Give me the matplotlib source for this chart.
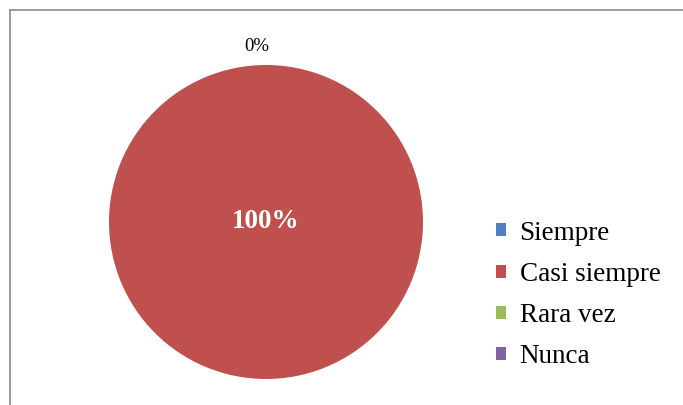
import numpy as np
import matplotlib
matplotlib.use('Agg')
import matplotlib.pyplot as plt
from matplotlib.patches import Patch
from matplotlib.lines import Line2D

# datos
categorias = ['Siempre', 'Casi siempre', 'Rara vez', 'Nunca']
valores = [0, 100, 0, 0]
colores = ['#4F81BD', '#C0504D', '#9BBB59', '#8064A2']

plt.rcParams['font.family'] = ['Liberation Serif', 'DejaVu Serif']

W, H = 683, 405
fig = plt.figure(figsize=(W / 100, H / 100), dpi=100)

# marco del grafico
fig.add_artist(Line2D([9.5 / W, 9.5 / W], [0, 1 - 10 / H], color='#8a8a8a', lw=1.2))
fig.add_artist(Line2D([9.5 / W, 1], [1 - 10 / H, 1 - 10 / H], color='#8a8a8a', lw=1.2))

# pastel
cx, cy, r = 266, H - 222, 157
ax = fig.add_axes([(cx - r) / W, (cy - r) / H, 2 * r / W, 2 * r / H])
wedges, _ = ax.pie(valores, colors=colores, startangle=90, counterclock=False,
                   radius=1, wedgeprops=dict(linewidth=0))
ax.set_xlim(-1, 1)
ax.set_ylim(-1, 1)
ax.set_aspect('equal')
ax.axis('off')

total = sum(valores)
cero_hecho = False
for w, v in zip(wedges, valores):
    ang = np.deg2rad((w.theta1 + w.theta2) / 2)
    pct = '%d%%' % round(100 * v / total)
    if v == total:
        ax.text(0, 0, pct, ha='center', va='center', color='white',
                fontsize=19.5, fontweight='bold')
    elif v == 0 and not cero_hecho:
        # las etiquetas de 0% se superponen, se dibuja solo una
        ax.text(1.12 * np.cos(ang) - 0.06, 1.12 * np.sin(ang), pct,
                ha='center', va='center', color='black', fontsize=13.5)
        cero_hecho = True

# leyenda
handles = [Patch(facecolor=c, edgecolor='none') for c in colores]
fig.legend(handles, categorias, loc='center left',
           bbox_to_anchor=(496 / W, (H - 295) / H), frameon=False,
           fontsize=19.5, handlelength=0.37, handleheight=0.37,
           handletextpad=0.5, labelspacing=0.6, borderpad=0,
           borderaxespad=0)

fig.savefig('out.png', dpi=100)
